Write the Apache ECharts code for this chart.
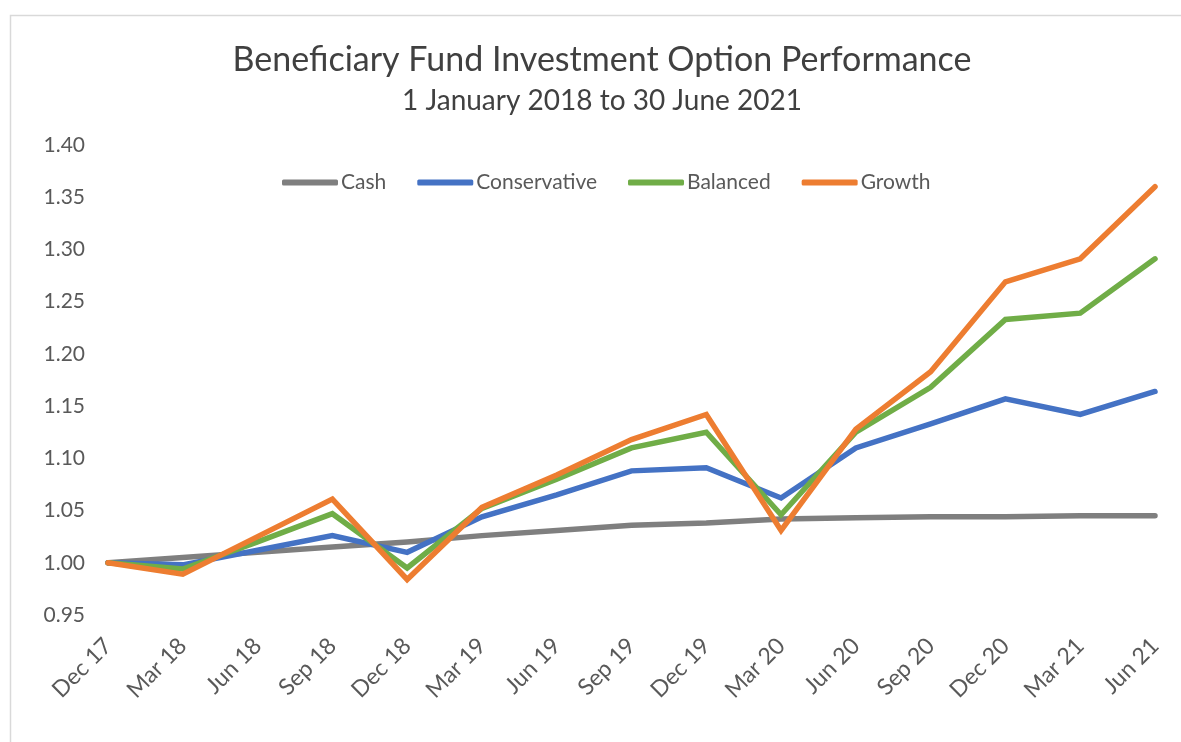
<!DOCTYPE html>
<html>
<head>
<meta charset="utf-8">
<script src="https://cdn.jsdelivr.net/npm/echarts@6/dist/echarts.min.js"></script>
<style>
  html, body { margin: 0; padding: 0; background: #fff; }
  #container { width: 1181px; height: 742px; }
</style>
</head>
<body>
<div id="container"></div>
<script>
let quarters = ['Dec 17', 'Mar 18', 'Jun 18', 'Sep 18', 'Dec 18', 'Mar 19', 'Jun 19', 'Sep 19',
                'Dec 19', 'Mar 20', 'Jun 20', 'Sep 20', 'Dec 20', 'Mar 21', 'Jun 21'];
let cash         = [1.000, 1.005, 1.010, 1.015, 1.020, 1.026, 1.031, 1.036, 1.038, 1.042, 1.043, 1.044, 1.044, 1.045, 1.045];
let conservative = [1.000, 0.998, 1.012, 1.026, 1.010, 1.044, 1.065, 1.088, 1.091, 1.062, 1.110, 1.133, 1.157, 1.142, 1.164];
let balanced     = [1.000, 0.994, 1.020, 1.047, 0.995, 1.052, 1.080, 1.110, 1.125, 1.046, 1.125, 1.168, 1.233, 1.239, 1.291];
let growth       = [1.000, 0.989, 1.025, 1.061, 0.984, 1.053, 1.084, 1.118, 1.142, 1.031, 1.128, 1.183, 1.269, 1.291, 1.360];

let seriesNames = ['Cash', 'Conservative', 'Balanced', 'Growth'];
let seriesData = [cash, conservative, balanced, growth];
let colors = ['#7f7f7f', '#4472c4', '#70ad47', '#ed7d31'];

let font = 'Lato, "Open Sans", sans-serif';

let chart = echarts.init(document.getElementById('container'));
chart.setOption({
    animation: false,
    color: colors,
    title: {
        text: 'Beneficiary Fund Investment Option Performance',
        subtext: '1 January 2018 to 30 June 2021',
        left: 597,
        textAlign: 'center',
        top: 38,
        itemGap: 10,
        textStyle: { fontFamily: font, fontWeight: 'normal', fontSize: 34, color: '#404040' },
        subtextStyle: { fontFamily: font, fontSize: 28, color: '#404040' }
    },
    graphic: [{
        type: 'rect',
        shape: { x: 10.5, y: 15.5, width: 1300, height: 900 },
        style: { fill: 'none', stroke: '#d9d9d9', lineWidth: 1.5 },
        silent: true
    }],
    legend: {
        data: seriesNames,
        top: 167,
        left: 277,
        itemWidth: 56,
        itemHeight: 6,
        itemGap: 31,
        icon: 'roundRect',
        textStyle: { fontFamily: font, fontSize: 21, color: '#595959', padding: [0, 0, 0, -2] }
    },
    grid: { left: 108, right: 26, top: 145, bottom: 127 },
    xAxis: {
        type: 'category',
        data: quarters,
        boundaryGap: false,
        axisLine: { show: false },
        axisTick: { show: false },
        axisLabel: {
            rotate: 45,
            interval: 0,
            margin: 27,
            fontFamily: font,
            fontSize: 23,
            color: '#595959'
        }
    },
    yAxis: {
        type: 'value',
        min: 0.95,
        max: 1.40,
        interval: 0.05,
        splitLine: { show: false },
        axisLine: { show: false },
        axisTick: { show: false },
        axisLabel: {
            margin: 23,
            fontFamily: font,
            fontSize: 21,
            color: '#595959',
            formatter: (v) => v.toFixed(2)
        }
    },
    series: seriesNames.map((name, i) => ({
        name: name,
        type: 'line',
        data: seriesData[i],
        symbol: 'none',
        lineStyle: { width: 5.5, color: colors[i], cap: 'round', join: 'miter' }
    }))
});
</script>
</body>
</html>
